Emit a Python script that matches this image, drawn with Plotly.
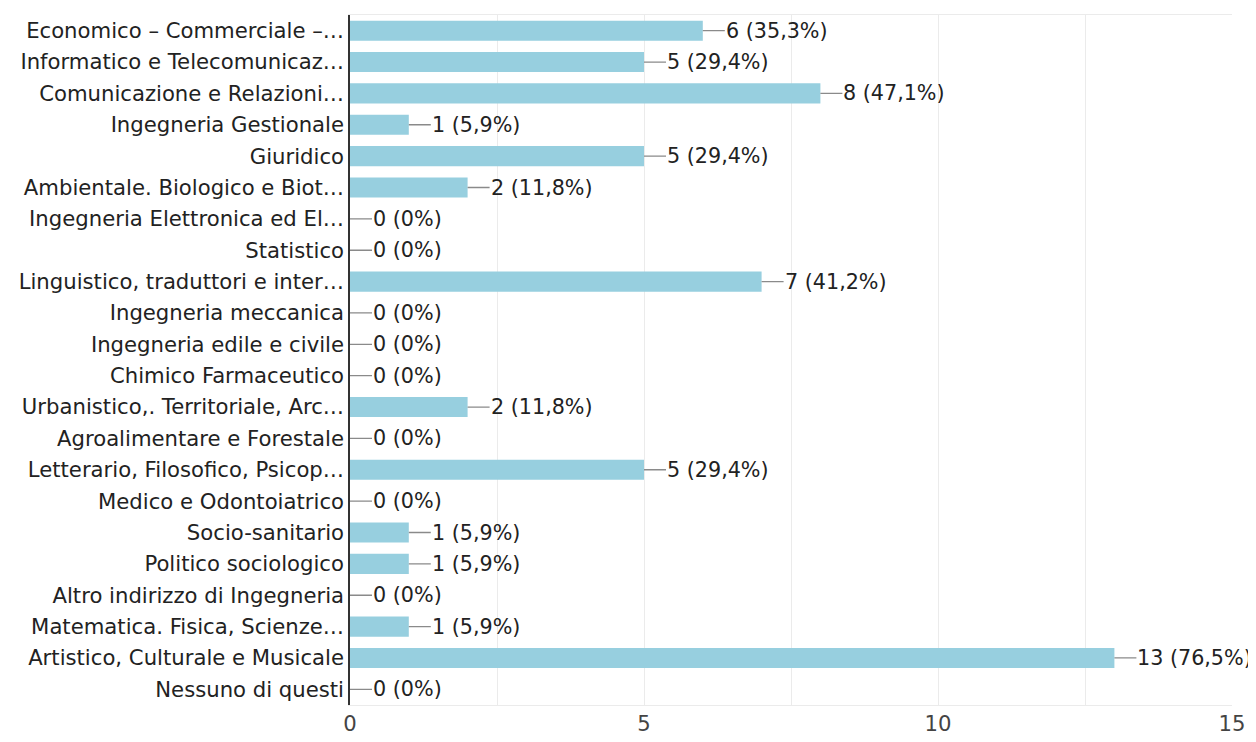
import plotly.graph_objects as go

categories = [
    "Economico – Commerciale –…",
    "Informatico e Telecomunicaz…",
    "Comunicazione e Relazioni…",
    "Ingegneria Gestionale",
    "Giuridico",
    "Ambientale. Biologico e Biot…",
    "Ingegneria Elettronica ed El…",
    "Statistico",
    "Linguistico, traduttori e inter…",
    "Ingegneria meccanica",
    "Ingegneria edile e civile",
    "Chimico Farmaceutico",
    "Urbanistico,. Territoriale, Arc…",
    "Agroalimentare e Forestale",
    "Letterario, Filosofico, Psicop…",
    "Medico e Odontoiatrico",
    "Socio-sanitario",
    "Politico sociologico",
    "Altro indirizzo di Ingegneria",
    "Matematica. Fisica, Scienze…",
    "Artistico, Culturale e Musicale",
    "Nessuno di questi",
]
counts = [6, 5, 8, 1, 5, 2, 0, 0, 7, 0, 0, 0, 2, 0, 5, 0, 1, 1, 0, 1, 13, 0]
labels = ["6 (35,3%)", "5 (29,4%)", "8 (47,1%)", "1 (5,9%)", "5 (29,4%)",
          "2 (11,8%)", "0 (0%)", "0 (0%)", "7 (41,2%)", "0 (0%)", "0 (0%)",
          "0 (0%)", "2 (11,8%)", "0 (0%)", "5 (29,4%)", "0 (0%)", "1 (5,9%)",
          "1 (5,9%)", "0 (0%)", "1 (5,9%)", "13 (76,5%)", "0 (0%)"]
tick_vals = [0, 2.5, 5, 7.5, 10, 12.5, 15]
tick_text = ["0", "", "5", "", "10", "", "15"]

FONT = "DejaVu Sans"
FS = 21.2
FS_ANN = 20.7

fig = go.Figure()
fig.add_trace(go.Bar(
    x=counts, y=categories, orientation="h",
    marker=dict(color="#97cfdf", line=dict(width=0)),
    hoverinfo="skip",
))

for c, v, t in zip(categories, counts, labels):
    fig.add_annotation(
        x=v, y=c, xref="x", yref="y",
        text=t, showarrow=True, arrowhead=0, arrowwidth=1.3,
        arrowcolor="#8a8a8a", ax=22, ay=0, axref="pixel", ayref="pixel",
        xanchor="left", yanchor="middle", borderpad=0, standoff=0,
        font=dict(family=FONT, size=FS_ANN, color="#222222"),
    )

fig.update_layout(
    width=1248, height=734,
    margin=dict(l=342, r=24, t=6, b=34),
    paper_bgcolor="white", plot_bgcolor="white",
    showlegend=False, bargap=0.36,
    font=dict(family=FONT, size=FS, color="#222222"),
    xaxis=dict(
        range=[0, 15], tickvals=tick_vals, ticktext=tick_text,
        showgrid=True, gridcolor="#ebebeb", gridwidth=1,
        zeroline=False, showline=True, linecolor="#ebebeb", mirror=True,
        ticks="", tickfont=dict(family=FONT, size=FS, color="#444444"),
        fixedrange=True,
    ),
    yaxis=dict(
        categoryorder="array", categoryarray=categories,
        autorange="reversed",
        showgrid=False, zeroline=False, showline=True, linecolor="#333333",
        linewidth=1.5, ticks="", ticklabelstandoff=0,
        tickfont=dict(family=FONT, size=FS, color="#222222"),
        fixedrange=True,
    ),
)

fig.write_html("out.html")
